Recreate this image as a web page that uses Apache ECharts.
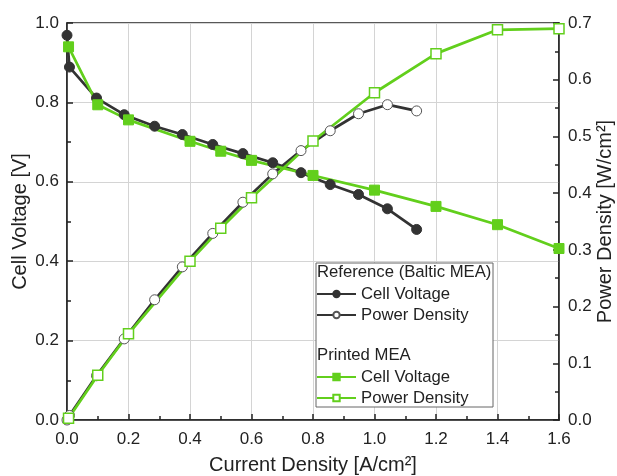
<!DOCTYPE html>
<html>
<head>
<meta charset="utf-8">
<script src="https://cdn.jsdelivr.net/npm/echarts@6/dist/echarts.min.js"></script>
<style>
  html, body { margin: 0; padding: 0; background: #fff; }
  #chart { width: 617px; height: 476px; }
</style>
</head>
<body>
<div id="chart"></div>
<script>
// Reference (Baltic MEA)
var refCurrent = [0, 0.008, 0.096, 0.186, 0.285, 0.375, 0.474, 0.572, 0.669, 0.761, 0.856, 0.948, 1.042, 1.137];
var refVoltage = [0.969, 0.889, 0.811, 0.769, 0.740, 0.719, 0.694, 0.671, 0.648, 0.623, 0.593, 0.568, 0.532, 0.480];
var refPower   = [0.000, 0.008, 0.078, 0.143, 0.212, 0.270, 0.329, 0.384, 0.434, 0.475, 0.510, 0.540, 0.556, 0.545];

// Printed MEA
var prtCurrent = [0.005, 0.1, 0.2, 0.4, 0.5, 0.6, 0.8, 1.0, 1.2, 1.4, 1.6];
var prtVoltage = [0.940, 0.794, 0.756, 0.702, 0.677, 0.654, 0.616, 0.579, 0.538, 0.492, 0.432];
var prtPower   = [0.003, 0.079, 0.152, 0.280, 0.338, 0.392, 0.492, 0.577, 0.646, 0.688, 0.690];

var dark = '#333333';
var green = '#62cf1c';
var font = '"Liberation Sans", Arial, sans-serif';

function pairs(xs, ys) {
    var out = [];
    for (var i = 0; i < xs.length; i++) out.push([xs[i], ys[i]]);
    return out;
}

var chart = echarts.init(document.getElementById('chart'));

var tickStyle = { show: true, inside: true, length: 6, lineStyle: { color: '#222', width: 1.5 } };
var minorStyle = { show: true, splitNumber: 2, length: 4, lineStyle: { color: '#222', width: 1.5 } };
var labelStyle = { color: '#222', fontSize: 17, fontFamily: font, formatter: function (v) { return v.toFixed(1); } };
var legendText = { color: '#222', fontSize: 16.7, fontFamily: font, lineHeight: 20 };

var option = {
    animation: false,
    backgroundColor: '#fff',
    grid: {
        left: 67, right: 58, top: 23, bottom: 56, containLabel: false, outerBoundsMode: 'none',
        show: true, borderColor: '#222', borderWidth: 1.5, backgroundColor: 'transparent'
    },
    xAxis: {
        type: 'value', min: 0, max: 1.6, interval: 0.2,
        name: 'Current Density [A/cm²]', nameLocation: 'middle', nameGap: 35,
        nameTextStyle: { color: '#222', fontSize: 20, fontFamily: font },
        axisLine: { show: true, lineStyle: { color: '#222', width: 1.5 } },
        axisTick: tickStyle, minorTick: minorStyle,
        axisLabel: Object.assign({ margin: 11 }, labelStyle),
        splitLine: { show: true, lineStyle: { color: '#d4d4d4', width: 1 } }
    },
    yAxis: [{
        type: 'value', min: 0, max: 1.0, interval: 0.2, position: 'left',
        name: 'Cell Voltage [V]', nameLocation: 'middle', nameGap: 37, nameRotate: 90, nameMoveOverlap: false,
        nameTextStyle: { color: '#222', fontSize: 20, fontFamily: font },
        axisLine: { show: true, lineStyle: { color: '#222', width: 1.5 } },
        axisTick: tickStyle, minorTick: minorStyle,
        axisLabel: Object.assign({ margin: 8 }, labelStyle),
        splitLine: { show: true, lineStyle: { color: '#d4d4d4', width: 1 } }
    }, {
        type: 'value', min: 0, max: 0.7, interval: 0.1, position: 'right',
        name: 'Power Density [W/cm²]', nameLocation: 'middle', nameGap: 36, nameRotate: 90, nameMoveOverlap: false,
        nameTextStyle: { color: '#222', fontSize: 20, fontFamily: font },
        axisLine: { show: true, lineStyle: { color: '#222', width: 1.5 } },
        axisTick: tickStyle, minorTick: minorStyle,
        axisLabel: Object.assign({ margin: 9 }, labelStyle),
        splitLine: { show: false }
    }],
    legend: [{
        left: 316, top: 284, orient: 'vertical', padding: 0, itemGap: 1,
        itemWidth: 39, itemHeight: 8,
        data: [{ name: 'Cell Voltage' }, { name: 'Power Density' }],
        textStyle: legendText,
        selectedMode: false
    }, {
        left: 316, top: 367, orient: 'vertical', padding: 0, itemGap: 1,
        itemWidth: 39, itemHeight: 8,
        data: [{ name: 'Cell Voltage ' }, { name: 'Power Density ' }],
        textStyle: legendText,
        selectedMode: false
    }],
    graphic: [{
        type: 'rect', z: 3, shape: { x: 316, y: 263, width: 177, height: 144 },
        style: { fill: '#fff', stroke: '#666', lineWidth: 1 }
    }, {
        type: 'text', z: 5, left: 317, top: 264,
        style: { text: 'Reference (Baltic MEA)', fill: '#222', fontSize: 16.7, fontFamily: font }
    }, {
        type: 'text', z: 5, left: 317, top: 347,
        style: { text: 'Printed MEA', fill: '#222', fontSize: 16.7, fontFamily: font }
    }],
    series: [{
        name: 'Cell Voltage', type: 'line', yAxisIndex: 0,
        data: pairs(refCurrent, refVoltage),
        symbol: 'circle', symbolSize: 10,
        lineStyle: { color: dark, width: 2.7 },
        itemStyle: { color: dark, borderColor: dark, borderWidth: 1 }
    }, {
        name: 'Power Density', type: 'line', yAxisIndex: 1,
        data: pairs(refCurrent, refPower),
        symbol: 'circle', symbolSize: 10,
        lineStyle: { color: dark, width: 2.7 },
        itemStyle: { color: '#fff', borderColor: '#555', borderWidth: 1 }
    }, {
        name: 'Cell Voltage ', type: 'line', yAxisIndex: 0,
        data: pairs(prtCurrent, prtVoltage),
        symbol: 'rect', symbolSize: 10,
        lineStyle: { color: green, width: 2.7 },
        itemStyle: { color: green, borderColor: green, borderWidth: 1 }
    }, {
        name: 'Power Density ', type: 'line', yAxisIndex: 1,
        data: pairs(prtCurrent, prtPower),
        symbol: 'rect', symbolSize: 10,
        lineStyle: { color: green, width: 2.7 },
        itemStyle: { color: '#fff', borderColor: green, borderWidth: 1.5 }
    }]
};

chart.setOption(option);
</script>
</body>
</html>
